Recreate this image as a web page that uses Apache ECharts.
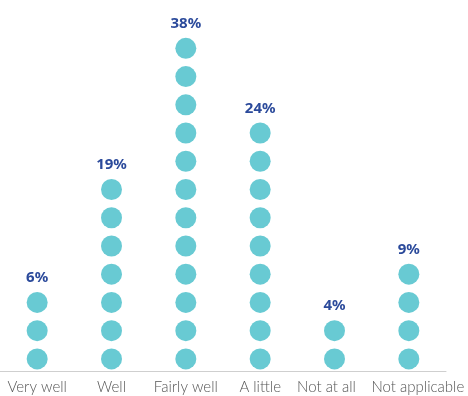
<!DOCTYPE html>
<html>
<head>
<meta charset="utf-8">
<script src="https://cdn.jsdelivr.net/npm/echarts@6/dist/echarts.min.js"></script>
<style>
  html, body { margin: 0; padding: 0; background: #fff; }
  #chart { width: 468px; height: 396px; }
</style>
</head>
<body>
<div id="chart"></div>
<script>
// Answer categories
const categories = ['Very well', 'Well', 'Fairly well', 'A little', 'Not at all', 'Not applicable'];
// Share of respondents (%), shown above each column
const percentages = [6, 19, 38, 24, 4, 9];
// Number of dots stacked in each column
const dots = [3, 7, 12, 9, 2, 4];

// Nudge the two long neighbouring labels apart so they don't touch
const labelPadding = {
  'Not at all': [0, 16, 0, 0],
  'Not applicable': [0, 0, 0, 18]
};

const chart = echarts.init(document.getElementById('chart'));

chart.setOption({
  animation: false,
  grid: { left: 0, right: 22, top: 4, bottom: 25 },
  xAxis: {
    type: 'category',
    data: categories.map(c => labelPadding[c]
      ? { value: c, textStyle: { padding: labelPadding[c] } }
      : c),
    axisLine: { show: true, lineStyle: { color: '#cfcfcf', width: 1 } },
    axisTick: { show: false },
    axisLabel: {
      color: '#555',
      fontFamily: 'Lato, "Open Sans", sans-serif',
      fontWeight: 300,
      fontSize: 15,
      margin: 9,
      interval: 0
    }
  },
  yAxis: {
    type: 'value',
    min: 0,
    max: 13,
    show: false,
    splitLine: { show: false }
  },
  series: [{
    type: 'pictorialBar',
    symbol: 'circle',
    symbolSize: [21, 21],
    symbolMargin: '0!',
    symbolOffset: [0, 2],
    itemStyle: { color: '#68cad3' },
    data: dots.map(n => ({ value: n, symbolRepeat: n, symbolBoundingData: n })),
    label: {
      show: true,
      position: 'top',
      distance: 1,
      color: '#2b4a9b',
      fontWeight: 'bold',
      fontSize: 15,
      fontFamily: '"Noto Sans", Lato, sans-serif',
      formatter: p => percentages[p.dataIndex] + '%'
    }
  }]
});
</script>
</body>
</html>
